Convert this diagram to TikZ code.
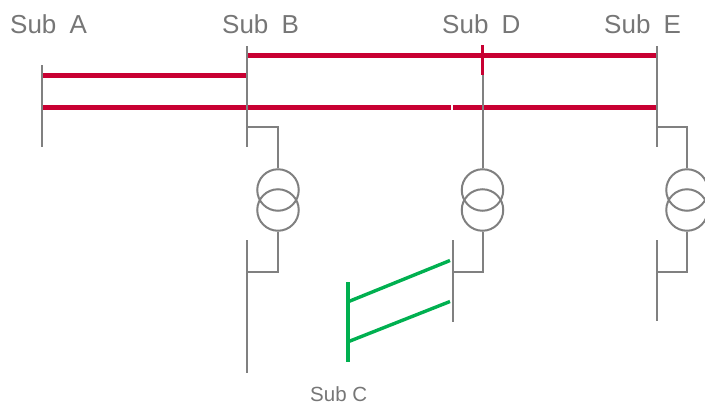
\documentclass[tikz,border=0pt]{standalone}
\usepackage{fontspec}
\setmainfont{Liberation Sans}
\tikzset{
	busLine/.style={draw=supportColor, line width=2pt},
	hvLine/.style={draw=lineColor, line width=5pt},
	mvLine/.style={draw=feederColor, line width=3.4pt},
	trafoCoil/.style={circle, draw=supportColor, line width=2pt, minimum size=41.5pt, inner sep=0pt},
	subLabel/.style={anchor=base west, inner sep=0pt, text=labelColor, font=\fontsize{26}{30}\selectfont},
	smallLabel/.style={anchor=base west, inner sep=0pt, text=labelColor, font=\fontsize{20.5}{24}\selectfont},
}
\begin{document}
\begin{tikzpicture}[x=1pt, y=-1pt]
% Colors
\definecolor{supportColor}{RGB}{128,128,128}
\definecolor{lineColor}{RGB}{200,0,50}
\definecolor{feederColor}{RGB}{0,176,80}
\definecolor{labelColor}{RGB}{118,118,118}
\useasboundingbox (0,0) rectangle (705,405);
% Labels
\node[subLabel] (labelA) at ( 10,33) {Sub\hspace{6pt} A};
\node[subLabel] (labelB) at (222,33) {Sub\hspace{6pt} B};
\node[subLabel] (labelD) at (442,33) {Sub\hspace{6pt} D};
\node[subLabel] (labelE) at (604,33) {Sub\hspace{6pt} E};
\node[smallLabel] (labelC) at (310,401) {Sub C};
% Bus ends
\coordinate (busAtop)  at ( 42, 65);
\coordinate (busAbot)  at ( 42,147);
\coordinate (busBtop)  at (246.5, 46);
\coordinate (busBbot)  at (246.5,147);
\coordinate (busEtop)  at (656.5, 46);
\coordinate (busEbot)  at (656.5,147);
\coordinate (barDtop)  at (482.5, 45);
\coordinate (barDbot)  at (482.5, 75);
\coordinate (lowBtop)  at (246.5,240);
\coordinate (lowBbot)  at (246.5,373);
\coordinate (lowDtop)  at (452.5,240);
\coordinate (lowDbot)  at (452.5,322);
\coordinate (lowEtop)  at (656.5,240);
\coordinate (lowEbot)  at (656.5,321);
% Red line ends
\coordinate (lineAB1a) at ( 42, 75);
\coordinate (lineAB1b) at (246.5, 75);
\coordinate (lineAE2a) at ( 42,107.5);
\coordinate (lineAE2b) at (451,107.5);
\coordinate (lineAE2c) at (453,107.5);
\coordinate (lineAE2d) at (656.5,107.5);
\coordinate (lineBEa)  at (246.5, 55.5);
\coordinate (lineBEb)  at (656.5, 55.5);
% Transformers
\node[trafoCoil] (trafoBup)  at (278,190) {};
\node[trafoCoil] (trafoBlow) at (278,210) {};
\node[trafoCoil] (trafoDup)  at (482.5,190) {};
\node[trafoCoil] (trafoDlow) at (482.5,210) {};
\node[trafoCoil] (trafoEup)  at (687,190) {};
\node[trafoCoil] (trafoElow) at (687,210) {};
% Stub corners
\coordinate (tapBup)   at (246.5,127);
\coordinate (bendBup)  at (278,127);
\coordinate (tapBlow)  at (246.5,272);
\coordinate (bendBlow) at (278,272);
\coordinate (tapDlow)  at (452.5,272);
\coordinate (bendDlow) at (482.5,272);
\coordinate (tapEup)   at (656.5,127);
\coordinate (bendEup)  at (687,127);
\coordinate (tapElow)  at (656.5,272);
\coordinate (bendElow) at (687,272);
% Sub C
\coordinate (busCtop)  at (347.5,282);
\coordinate (busCbot)  at (347.5,362);
\coordinate (feedC1a)  at (347.5,302);
\coordinate (feedC1b)  at (450,260.5);
\coordinate (feedC2a)  at (347.5,342);
\coordinate (feedC2b)  at (450,301.5);
\begin{scope}[hvLine]
	\draw (lineAB1a) -- (lineAB1b);
	\draw (lineAE2a) -- (lineAE2b);
	\draw (lineAE2c) -- (lineAE2d);
	\draw (lineBEa) -- (lineBEb);
\end{scope}
\begin{scope}[busLine]
	\draw (busAtop) -- (busAbot);
	\draw (busBtop) -- (busBbot);
	\draw (busEtop) -- (busEbot);
	\draw (lowBtop) -- (lowBbot);
	\draw (lowDtop) -- (lowDbot);
	\draw (lowEtop) -- (lowEbot);
	\draw (barDbot) -- (trafoDup.north);
	\draw (tapBup) -- (bendBup) -- (trafoBup.north);
	\draw (trafoBlow.south) -- (bendBlow) -- (tapBlow);
	\draw (trafoDlow.south) -- (bendDlow) -- (tapDlow);
	\draw (tapEup) -- (bendEup) -- (trafoEup.north);
	\draw (trafoElow.south) -- (bendElow) -- (tapElow);
\end{scope}
\draw[lineColor, line width=3.6pt] (barDtop) -- (barDbot);
\begin{scope}[mvLine]
	\draw[line width=4pt] (busCtop) -- (busCbot);
	\draw (feedC1a) -- (feedC1b);
	\draw (feedC2a) -- (feedC2b);
\end{scope}
\end{tikzpicture}
\end{document}
